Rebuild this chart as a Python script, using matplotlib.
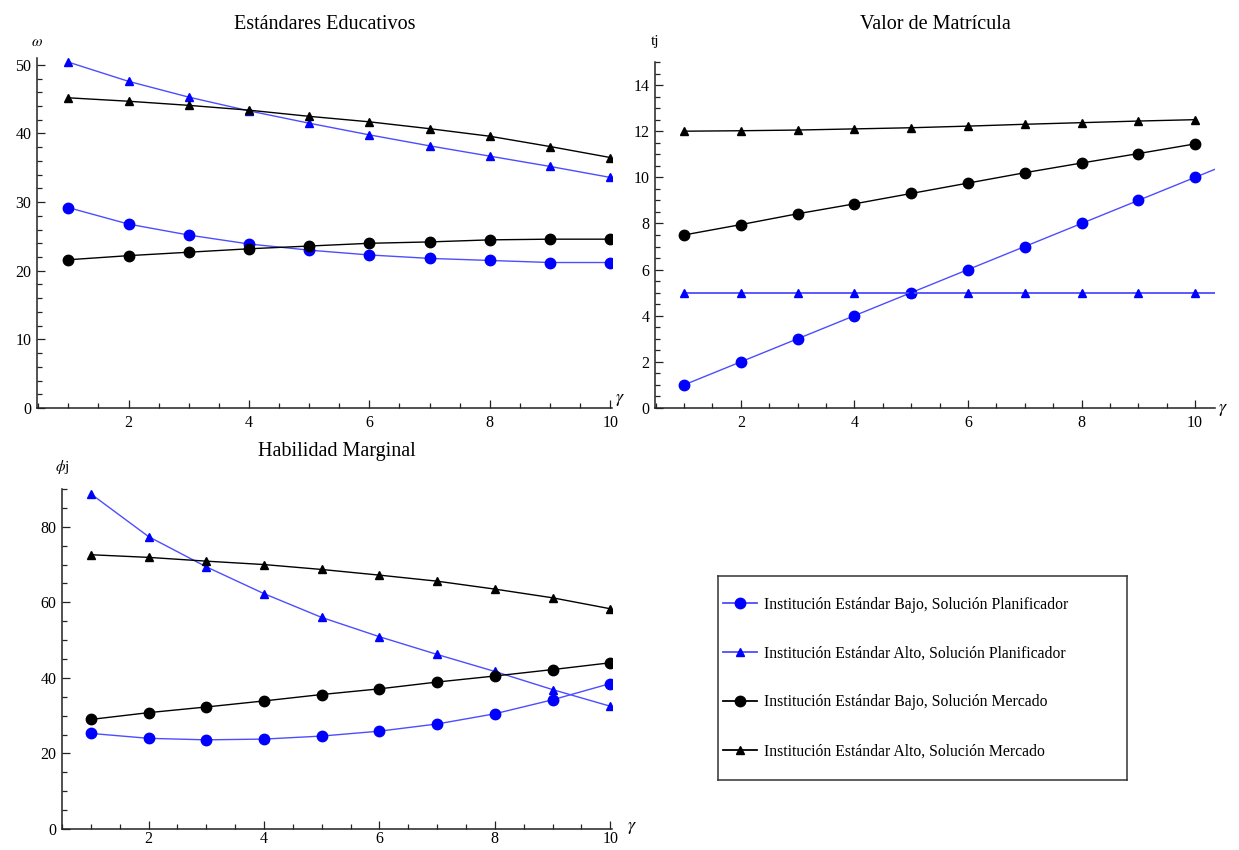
import matplotlib
matplotlib.use("Agg")
import matplotlib.pyplot as plt
from matplotlib.ticker import MultipleLocator
from matplotlib.lines import Line2D

plt.rcParams['font.family'] = ['Liberation Serif', 'DejaVu Serif']
plt.rcParams['mathtext.fontset'] = 'stix'

# gamma values
gamma = [1, 2, 3, 4, 5, 6, 7, 8, 9, 10]

# Estandares Educativos (omega)
w_bajo_plan = [29.2, 26.8, 25.2, 23.9, 23.0, 22.3, 21.8, 21.5, 21.2, 21.2]
w_alto_plan = [50.4, 47.6, 45.3, 43.3, 41.5, 39.8, 38.2, 36.7, 35.2, 33.6]
w_bajo_merc = [21.6, 22.2, 22.7, 23.2, 23.6, 24.0, 24.2, 24.5, 24.6, 24.6]
w_alto_merc = [45.2, 44.7, 44.1, 43.4, 42.5, 41.7, 40.7, 39.6, 38.1, 36.5]

# Valor de Matricula (tj)
t_bajo_plan = [1, 2, 3, 4, 5, 6, 7, 8, 9, 10]
t_alto_plan = [5, 5, 5, 5, 5, 5, 5, 5, 5, 5]
t_bajo_merc = [7.5, 7.95, 8.42, 8.85, 9.3, 9.75, 10.2, 10.62, 11.03, 11.45]
t_alto_merc = [12.0, 12.02, 12.05, 12.1, 12.15, 12.22, 12.3, 12.37, 12.44, 12.5]
# planner curves keep going to the edge of the plot range
t_curve_x = [10, 10.35]
t_bajo_plan_curve = [10, 10.35]
t_alto_plan_curve = [5, 5]

# Habilidad Marginal (phi j)
h_bajo_plan = [25.3, 24.0, 23.6, 23.8, 24.6, 25.9, 27.8, 30.5, 34.2, 38.5]
h_alto_plan = [88.7, 77.4, 69.4, 62.3, 56.0, 50.9, 46.2, 41.7, 36.9, 32.5]
h_bajo_merc = [29.0, 30.8, 32.3, 33.9, 35.6, 37.1, 38.9, 40.5, 42.2, 44.0]
h_alto_merc = [72.6, 71.9, 70.9, 70.0, 68.7, 67.2, 65.6, 63.5, 61.2, 58.3]

labels = ['Institución Estándar Bajo, Solución Planificador',
          'Institución Estándar Alto, Solución Planificador',
          'Institución Estándar Bajo, Solución Mercado',
          'Institución Estándar Alto, Solución Mercado']

BLUE = '#0000ff'
BLUE_LINE = '#4d4dff'
styles = [
    dict(color=BLUE_LINE, marker='o', mfc=BLUE, mec=BLUE, ms=7.5),
    dict(color=BLUE_LINE, marker='^', mfc=BLUE, mec=BLUE, ms=6),
    dict(color='black', marker='o', mfc='black', mec='black', ms=7.5),
    dict(color='black', marker='^', mfc='black', mec='black', ms=6),
]

W, H = 1239, 850
fig = plt.figure(figsize=(W / 100, H / 100), dpi=100)


def px_axes(x0, y0, x1, y1):
    return fig.add_axes([x0 / W, 1 - y1 / H, (x1 - x0) / W, (y1 - y0) / H])


def style_axes(ax, xlim, ylim, ymaj, ymin, title, ylab, title_pad, ylab_pad,
               gam_dx=8, gam_dy=8, xpad=5):
    ax.set_xlim(*xlim)
    ax.set_ylim(*ylim)
    for s in ['top', 'right']:
        ax.spines[s].set_visible(False)
    for s in ['left', 'bottom']:
        ax.spines[s].set_linewidth(1.1)
        ax.spines[s].set_color('#222222')
    ax.xaxis.set_major_locator(MultipleLocator(2))
    ax.xaxis.set_minor_locator(MultipleLocator(0.5))
    ax.yaxis.set_major_locator(MultipleLocator(ymaj))
    ax.yaxis.set_minor_locator(MultipleLocator(ymin))
    ax.tick_params(which='both', direction='in', color='#222222', width=0.9,
                   labelsize=11.5, pad=4)
    ax.tick_params(axis='x', pad=xpad)
    ax.tick_params(which='major', length=6)
    ax.tick_params(which='minor', length=3.5)
    ax.set_title(title, fontsize=14.5, pad=title_pad)
    ax.annotate(ylab, xy=(0, 1), xycoords='axes fraction',
                xytext=(0, ylab_pad), textcoords='offset pixels',
                ha='center', va='center', fontsize=11)
    ax.annotate(r'$\gamma$', xy=(1, 0), xycoords='axes fraction',
                xytext=(gam_dx, gam_dy), textcoords='offset pixels',
                ha='center', va='center', fontsize=13)


# Estandares Educativos
ax1 = px_axes(37, 58, 612, 408)
for ys, st in zip([w_bajo_plan, w_alto_plan, w_bajo_merc, w_alto_merc], styles):
    ax1.plot(gamma, ys, lw=1.0, **st)
style_axes(ax1, (0.48, 10.03), (0, 51), 10, 2, 'Estándares Educativos',
           r'$\omega$', 21, 16)

# Valor de Matricula
ax2 = px_axes(655, 62, 1215, 408)
ax2.plot(t_curve_x, t_bajo_plan_curve, color=BLUE_LINE, lw=1.0)
ax2.plot(t_curve_x, t_alto_plan_curve, color=BLUE_LINE, lw=1.3)
for ys, st in zip([t_bajo_plan, t_alto_plan, t_bajo_merc, t_alto_merc], styles):
    lw = 1.3 if ys is t_alto_plan else 1.0
    ax2.plot(gamma, ys, lw=lw, **st)
style_axes(ax2, (0.49, 10.35), (0, 15), 2, 0.5, 'Valor de Matrícula',
           'tj', 24, 20, gam_dy=-2)

# Habilidad Marginal
ax3 = px_axes(62, 489, 612, 829)
for ys, st in zip([h_bajo_plan, h_alto_plan, h_bajo_merc, h_alto_merc], styles):
    ax3.plot(gamma, ys, lw=1.0, **st)
style_axes(ax3, (0.5, 10.03), (0, 90), 20, 5, 'Habilidad Marginal',
           r'$\phi$j', 24, 22, gam_dx=20, gam_dy=2, xpad=1.5)

# legend box
axl = px_axes(718, 576, 1127, 780)
axl.set_xticks([])
axl.set_yticks([])
for s in axl.spines.values():
    s.set_color('#333333')
    s.set_linewidth(1.1)
handles = [Line2D([], [], lw=1.3, **st) for st in styles]
axl.legend(handles, labels, loc='center left', frameon=False, fontsize=11.3,
           handlelength=2.2, handletextpad=0.4, labelspacing=2.1,
           borderaxespad=0.1, borderpad=0.2)

fig.savefig('out.png', dpi=100)
